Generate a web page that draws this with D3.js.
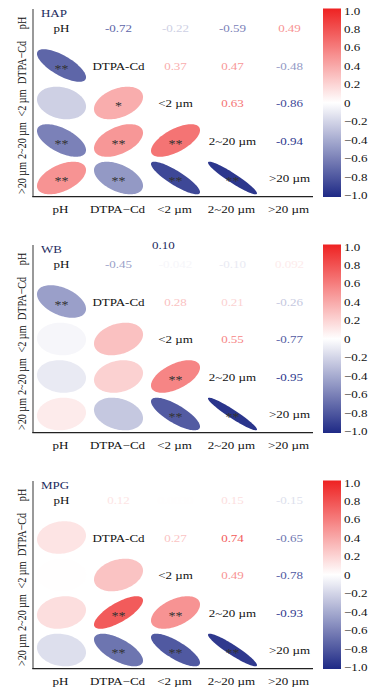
<!DOCTYPE html>
<html><head><meta charset="utf-8">
<script src="https://cdn.jsdelivr.net/npm/d3@7"></script>
<style>body{margin:0;background:#fff}svg{display:block}</style>
</head><body><svg id="c" width="378" height="689"></svg>
<script>
// ---- data ----
const variables = ["pH", "DTPA-Cd", "<2 µm", "2~20 µm", ">20 µm"];
const axisLabels = ["pH", "DTPA\u2212Cd", "<2 µm", "2~20 µm", ">20 µm"];
const panelNames = ["HAP", "WB", "MPG"];
// upper-triangle pairs in order (0,1),(0,2),(0,3),(0,4),(1,2),(1,3),(1,4),(2,3),(2,4),(3,4)
const hapValues = [-0.72, -0.22, -0.59, 0.49, 0.37, 0.47, -0.48, 0.63, -0.86, -0.94];
const wbValues  = [-0.45, -0.042, -0.10, 0.092, 0.28, 0.21, -0.26, 0.55, -0.77, -0.95];
const mpgValues = [0.12, 0.0030, 0.15, -0.15, 0.27, 0.74, -0.65, 0.49, -0.78, -0.93];
const hapStars = ["**", "", "**", "**", "*", "**", "**", "**", "**", "**"];
const wbStars  = ["**", "", "", "", "", "", "", "**", "**", "**"];
const mpgStars = ["", "", "", "", "", "**", "**", "**", "**", "**"];
const colorTicks = [1.0, 0.8, 0.6, 0.4, 0.2, 0, -0.2, -0.4, -0.6, -0.8, -1.0];
const strayLabel = "0.10"; // stray label shown in the WB panel

const FONT = '"Liberation Serif", "Times New Roman", Times, serif';
const SY = 0.85; // vertical squash of the original figure
const panelValues = [hapValues, wbValues, mpgValues];
const panelStars = [hapStars, wbStars, mpgStars];
const panelOffsets = [0, 236, 472];

const svg = d3.select("#c").attr("font-family", FONT);
const color = d3.scaleLinear().domain([-1, 0, 1]).range(["#1F2A86", "#FFFFFF", "#EE2222"]);

const x = d3.scaleBand().domain(d3.range(5)).range([33, 318]);
const y = d3.scaleBand().domain(d3.range(5)).range([9.25, 196.75]);
const cbY = d3.scaleLinear().domain([1, -1]).range([10.5, 195]);

const pairs = [];
for (let i = 0; i < 5; i++) for (let j = i + 1; j < 5; j++) pairs.push([i, j]);

function fmt(v) {
  return Math.abs(v) < 0.1 && v !== 0 ? v.toPrecision(2) : v.toFixed(2);
}
function txt(g, tx, ty, s, opts = {}) {
  const sy = opts.rotate ? 0.78 : SY;
  return g.append("text")
    .attr("transform", `translate(${tx},${ty}) scale(1,${sy})` + (opts.rotate ? " rotate(-90)" : ""))
    .attr("text-anchor", opts.anchor || "start")
    .attr("font-size", opts.size || 13)
    .attr("fill", opts.fill || "#111")
    .text(s);
}

const defs = svg.append("defs");
const grad = defs.append("linearGradient").attr("id", "cb").attr("x1", 0).attr("x2", 0).attr("y1", 0).attr("y2", 1);
d3.range(0, 1.0001, 0.05).forEach(t => {
  grad.append("stop").attr("offset", t).attr("stop-color", color(1 - 2 * t));
});

function ellipsePath(r, w, h) {
  const d = Math.acos(Math.max(-1, Math.min(1, r)));
  const pts = d3.range(0, 100).map(k => {
    const t = k / 100 * 2 * Math.PI;
    return [Math.cos(t + d / 2) * w / 2, -Math.cos(t - d / 2) * h / 2];
  });
  return d3.line().curve(d3.curveLinearClosed)(pts);
}

panelNames.forEach((name, p) => {
  const g = svg.append("g").attr("transform", `translate(0,${panelOffsets[p]})`);
  const vals = panelValues[p], stars = panelStars[p];

  g.append("line").attr("x1", 33).attr("x2", 33).attr("y1", 9).attr("y2", 197)
    .attr("stroke", "#777").attr("stroke-width", 1.5);
  g.append("line").attr("x1", 32.3).attr("x2", 313).attr("y1", 196.7).attr("y2", 196.7)
    .attr("stroke", "#222").attr("stroke-width", 1.3);

  txt(g, 41, 16.5, name, { fill: "#1d2b5e" });
  if (name === "WB") txt(g, 152, 13, strayLabel, { fill: "#1d2b5e" });

  variables.forEach((v, i) => {
    txt(g, x(i) + x.bandwidth() / 2, y(i) + y.bandwidth() / 2 + 4, v, { anchor: "middle" });
  });

  const W = x.bandwidth() * 0.86, H = y.bandwidth() * 0.87;
  pairs.forEach(([i, j], k) => {
    const r = vals[k];
    txt(g, x(j) + x.bandwidth() / 2, y(i) + y.bandwidth() / 2 + 4, fmt(r), { anchor: "middle", fill: color(r) });
    const cx = x(i) + x.bandwidth() / 2, cy = y(j) + y.bandwidth() / 2;
    g.append("path").attr("transform", `translate(${cx},${cy})`).attr("d", ellipsePath(r, W, H))
      .attr("fill", color(r));
    if (stars[k]) txt(g, cx, cy + 7, stars[k], { anchor: "middle", size: 14, fill: "#333" });
  });

  axisLabels.forEach((v, i) => {
    txt(g, 26, y(i) + y.bandwidth() / 2 - (i === 0 ? 5 : i === 1 ? 3 : 0), v, { anchor: "middle", rotate: true });
  });
  axisLabels.forEach((v, i) => {
    txt(g, x(i) + x.bandwidth() / 2 - 1, 213, v, { anchor: "middle" });
  });

  g.append("rect").attr("x", 323).attr("y", 8.5).attr("width", 18).attr("height", 188.5).attr("fill", "url(#cb)");
  colorTicks.forEach(t => {
    txt(g, 344, cbY(t) + 4, t === 0 ? "0" : (t < 0 ? "\u2212" : "") + Math.abs(t).toFixed(1));
  });
});
</script></body></html>
